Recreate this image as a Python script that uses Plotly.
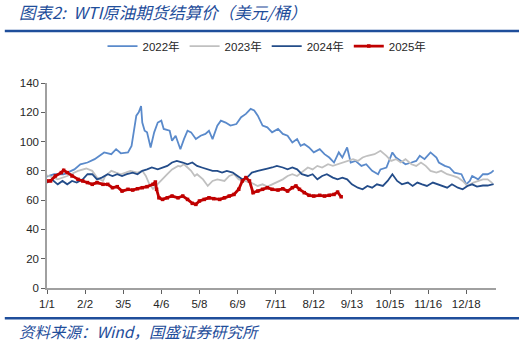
import plotly.graph_objects as go

# ---- data (x = day index on the chart's calendar axis, y = USD/bbl) ----
tick_days = [0, 32, 64, 96, 128, 160, 192, 224, 256, 288, 320, 352]
tick_labels = ["1/1", "2/2", "3/5", "4/6", "5/8", "6/9", "7/11", "8/12", "9/13", "10/15", "11/16", "12/18"]

d2022 = [0, 6, 14, 23, 28, 34, 40, 48, 54, 58, 62, 68, 71, 73, 75, 77, 79, 80, 82, 84, 87, 90, 93, 96, 98,
         103, 105, 108, 112, 115, 118, 121, 125, 129, 133, 136, 139, 143, 146, 150, 154, 159, 163, 167, 171,
         174, 177, 181, 185, 189, 194, 198, 202, 206, 210, 213, 216, 220, 224, 229, 233, 237, 241, 245, 248,
         252, 255, 259, 264, 268, 273, 278, 280, 285, 290, 293, 297, 301, 306, 310, 313, 317, 322, 327, 329,
         334, 338, 342, 348, 352, 355, 357, 362, 366, 370, 373, 375]
v2022 = [76.1, 77.7, 77.7, 81.0, 84.5, 85.7, 88.0, 92.6, 91.4, 94.8, 92.0, 92.6, 97.0, 108.6, 117.7, 120.0,
         124.2, 113.0, 107.4, 106.3, 96.0, 106.3, 113.0, 114.3, 108.6, 107.4, 100.6, 104.0, 94.8, 101.7, 107.4,
         106.3, 101.7, 104.0, 105.2, 107.4, 101.7, 110.9, 114.3, 113.0, 110.9, 112.0, 116.6, 118.9, 122.3,
         121.2, 117.7, 110.9, 109.7, 106.3, 108.6, 105.2, 104.0, 99.4, 101.7, 97.1, 98.3, 96.0, 92.6, 94.8,
         91.4, 89.1, 85.7, 92.6, 89.1, 96.0, 85.7, 86.8, 83.4, 84.5, 80.0, 77.7, 81.0, 82.3, 92.6, 89.1, 86.8,
         84.5, 85.7, 86.8, 90.3, 88.0, 92.6, 89.1, 85.7, 83.4, 82.3, 78.8, 77.7, 70.8, 73.1, 76.5, 74.2, 77.7,
         77.7, 78.8, 80.3]

d2023 = [0, 9, 17, 26, 33, 38, 42, 47, 49, 54, 58, 62, 66, 70, 76, 80, 83, 86, 89, 93, 97, 101, 105, 110,
         112, 115, 118, 121, 124, 126, 131, 135, 139, 143, 149, 153, 157, 161, 166, 171, 177, 181, 185, 189,
         194, 198, 202, 206, 210, 215, 219, 223, 227, 231, 236, 240, 244, 248, 252, 257, 261, 265, 269, 275,
         280, 285, 289, 293, 297, 301, 306, 310, 314, 318, 322, 327, 331, 336, 341, 345, 349, 353, 358, 362,
         366, 370, 374]
v2023 = [76.9, 74.2, 76.5, 80.0, 81.6, 80.0, 75.4, 73.1, 76.5, 80.0, 78.8, 77.7, 78.8, 80.0, 78.8, 80.0,
         76.5, 70.8, 67.7, 70.8, 74.2, 77.7, 81.0, 83.4, 83.0, 84.5, 82.3, 80.0, 76.5, 77.7, 74.2, 69.7, 73.1,
         74.2, 73.1, 76.5, 77.7, 74.2, 73.1, 72.0, 69.7, 70.8, 69.2, 70.8, 73.1, 74.2, 76.5, 77.7, 76.5, 80.0,
         82.3, 81.0, 83.4, 82.3, 84.5, 83.4, 84.5, 85.7, 86.8, 88.0, 86.8, 89.1, 90.3, 91.4, 93.7, 90.3, 86.8,
         88.0, 85.7, 88.0, 84.5, 83.4, 85.7, 83.4, 80.0, 78.8, 80.0, 77.7, 76.5, 75.4, 73.1, 69.7, 72.0, 73.1,
         74.2, 74.2, 71.6]

d2024 = [0, 4, 9, 13, 17, 21, 25, 30, 34, 38, 42, 46, 51, 55, 59, 63, 67, 72, 76, 80, 84, 88, 93, 97, 101,
         105, 109, 114, 118, 122, 126, 130, 135, 139, 143, 147, 151, 156, 160, 164, 168, 172, 177, 181, 185,
         189, 193, 198, 202, 206, 210, 214, 219, 223, 227, 231, 235, 240, 244, 248, 252, 256, 261, 265, 269,
         273, 277, 282, 286, 290, 294, 298, 303, 307, 311, 315, 319, 324, 328, 332, 336, 340, 345, 349, 353,
         357, 361, 366, 370, 374, 375]
v2024 = [71.9, 74.2, 70.8, 73.1, 70.8, 73.1, 72.0, 74.2, 77.7, 77.7, 74.2, 75.4, 77.7, 76.5, 77.7, 76.5,
         77.7, 78.8, 77.7, 80.0, 81.0, 82.3, 81.0, 82.3, 83.4, 85.7, 86.8, 85.7, 84.5, 85.7, 83.4, 82.3, 81.0,
         80.0, 80.0, 78.8, 80.0, 78.8, 76.5, 74.2, 75.4, 78.8, 80.0, 81.0, 81.6, 82.3, 83.4, 82.3, 81.0, 82.3,
         81.0, 77.7, 76.5, 77.7, 74.2, 76.5, 77.7, 75.4, 74.2, 75.4, 74.2, 70.8, 68.5, 67.4, 69.7, 68.5, 70.8,
         69.7, 73.1, 77.7, 73.1, 70.8, 72.0, 69.7, 72.0, 70.8, 69.7, 72.0, 70.8, 69.7, 68.5, 70.8, 68.5, 67.4,
         69.7, 70.8, 69.2, 70.0, 70.0, 70.8, 71.0]

d2025 = [0, 3, 7, 12, 14, 17, 21, 26, 30, 34, 38, 42, 47, 51, 55, 59, 63, 68, 72, 76, 80, 84, 89, 91, 92,
         94, 97, 101, 105, 110, 114, 118, 122, 125, 128, 132, 136, 140, 145, 149, 153, 157, 161, 164, 167,
         170, 173, 177, 181, 185, 189, 194, 198, 202, 206, 209, 212, 216, 220, 224, 229, 233, 237, 241, 244,
         247]
v2025 = [73.1, 73.1, 76.5, 78.8, 80.4, 78.8, 76.5, 74.2, 73.1, 72.0, 70.8, 72.0, 70.8, 70.8, 68.5, 69.2,
         66.2, 67.4, 66.9, 67.8, 68.5, 69.2, 70.8, 72.4, 67.4, 61.6, 60.5, 61.6, 62.8, 61.6, 62.8, 60.5, 57.8,
         57.1, 59.4, 60.5, 61.6, 61.0, 60.5, 61.6, 62.8, 63.9, 67.4, 73.1, 75.4, 73.1, 65.1, 66.2, 67.4, 68.5,
         67.4, 66.9, 67.8, 66.2, 68.5, 69.7, 67.4, 65.1, 63.3, 62.8, 63.3, 62.8, 63.3, 63.9, 65.5, 62.3]

y_ticks = [0, 20, 40, 60, 80, 100, 120, 140]

# ---- figure ----
C22, C23, C24, C25 = "#5A8ACB", "#C0C0C0", "#234C89", "#C00000"
BLUE = "#1F4E9B"

fig = go.Figure()
fig.add_trace(go.Scatter(x=d2022, y=v2022, name="2022年", mode="lines",
                         line=dict(color=C22, width=1.8)))
fig.add_trace(go.Scatter(x=d2023, y=v2023, name="2023年", mode="lines",
                         line=dict(color=C23, width=1.8)))
fig.add_trace(go.Scatter(x=d2024, y=v2024, name="2024年", mode="lines",
                         line=dict(color=C24, width=1.8)))
fig.add_trace(go.Scatter(x=d2025, y=v2025, name="2025年", mode="lines+markers",
                         line=dict(color=C25, width=2.8),
                         marker=dict(symbol="square", size=3.5, color=C25)))

axis_font = dict(family="Liberation Sans, Arial, sans-serif", size=11.5, color="#262626")
fig.update_layout(
    width=519, height=344,
    margin=dict(l=47, r=23, t=83, b=56),
    paper_bgcolor="white", plot_bgcolor="white",
    showlegend=True,
    legend=dict(orientation="h", x=0.49, xanchor="center", y=1.18, yanchor="middle",
                font=dict(family="Liberation Sans, Noto Sans CJK SC, sans-serif", size=11.5, color="#262626"),
                itemwidth=30, tracegroupgap=0, bgcolor="rgba(0,0,0,0)"),
    xaxis=dict(range=[0, 377], tickmode="array", tickvals=tick_days, ticktext=tick_labels,
               showgrid=False, zeroline=False, showline=True, linecolor="#A0A0A0", linewidth=1.5,
               ticks="outside", ticklen=4, tickcolor="#606060", tickwidth=1, tickfont=axis_font),
    yaxis=dict(range=[0, 140], tickmode="array", tickvals=y_ticks,
               showgrid=False, zeroline=False, showline=True, linecolor="#A0A0A0", linewidth=1.5,
               ticks="outside", ticklen=4, tickcolor="#606060", tickwidth=1, tickfont=axis_font),
)

# title, separators, source
fig.add_annotation(text="<i>图表2:  WTI原油期货结算价（美元/桶）</i>", xref="paper", yref="paper",
                   x=-0.067, y=1.345, xanchor="left", yanchor="middle", showarrow=False,
                   font=dict(family="Noto Sans CJK SC, sans-serif", size=16.5, color=BLUE))
fig.add_annotation(text="<i>资料来源：Wind，国盛证券研究所</i>", xref="paper", yref="paper",
                   x=-0.067, y=-0.21, xanchor="left", yanchor="middle", showarrow=False,
                   font=dict(family="Noto Sans CJK SC, sans-serif", size=15.5, color=BLUE))
fig.add_shape(type="line", xref="paper", yref="paper", x0=-0.094, x1=1.06, y0=1.254, y1=1.254,
              line=dict(color=BLUE, width=2.5))
fig.add_shape(type="line", xref="paper", yref="paper", x0=-0.094, x1=1.06, y0=-0.148, y1=-0.148,
              line=dict(color=BLUE, width=2.5))

fig.write_html("out.html")
